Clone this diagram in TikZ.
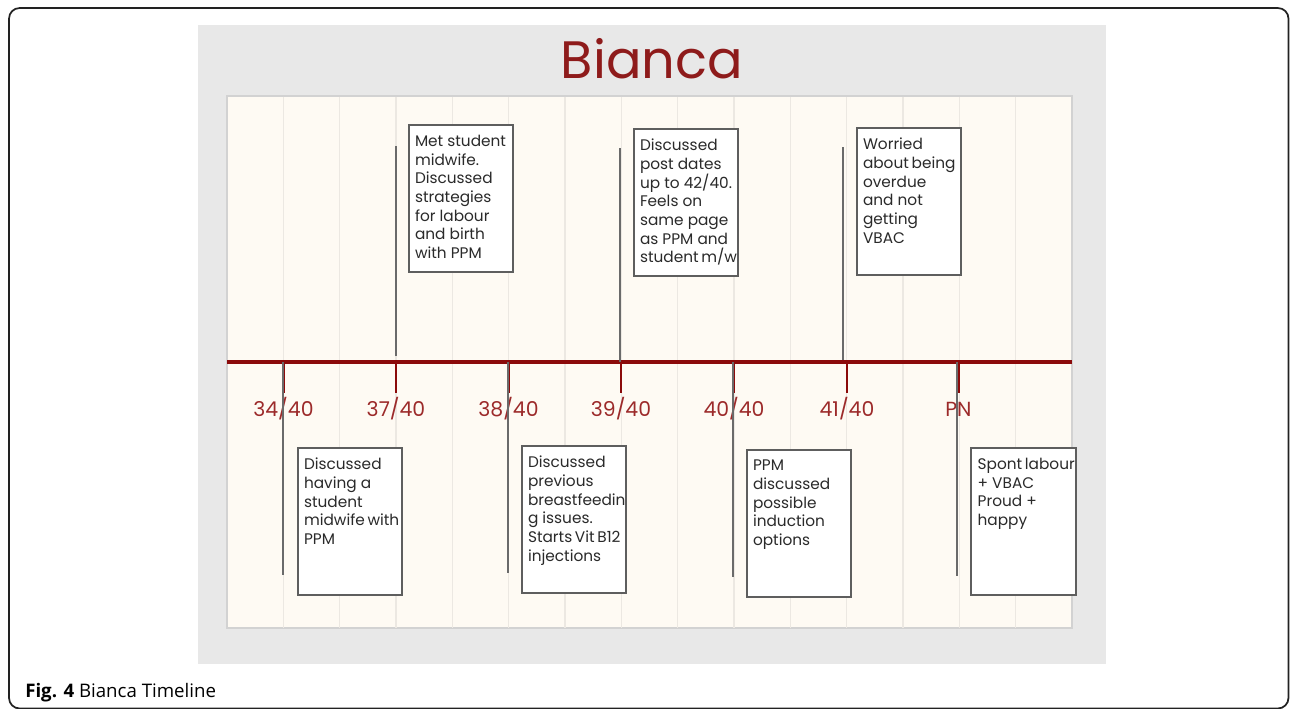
\documentclass[tikz,border=0pt]{standalone}
\usepackage{fontspec}
\setmainfont{Poppins}
\newfontfamily\capfont{Open Sans}
\definecolor{framec}{HTML}{222222}
\definecolor{bgc}{HTML}{E8E8E8}
\definecolor{panelc}{HTML}{FEFAF3}
\definecolor{stripec}{HTML}{ECE8E2}
\definecolor{panelborder}{HTML}{D2D2D2}
\definecolor{titlec}{HTML}{8E1B1B}
\definecolor{linec}{HTML}{8B0A0A}
\definecolor{labelc}{HTML}{9C2A2A}
\definecolor{conc}{HTML}{6A6A6A}
\definecolor{boxc}{HTML}{5E5E5E}
\definecolor{evtextc}{HTML}{2A2A2A}
\newcommand\evtext[1]{\vbox to 101pt{\hsize=69pt\parindent=0pt\raggedright\hyphenpenalty=10000\exhyphenpenalty=10000\color{evtextc}\fontsize{11.5}{14}\selectfont\hbadness=10000\hfuzz=50pt\vskip 3pt #1\par\vfil}}
\tikzset{
  evbox/.style={draw=boxc, line width=1.5pt, fill=white, anchor=north west, inner xsep=4.5pt, inner ysep=4.5pt},
  tick/.style={draw=linec, line width=1.5pt},
  conn/.style={draw=conc, line width=1.5pt},
  weeklabel/.style={text=labelc, font=\fontsize{15.3}{16}\selectfont, inner sep=0pt},
}
\begin{document}
\begin{tikzpicture}[x=0.75pt,y=-0.75pt]
\useasboundingbox (0,0) rectangle (1290,708);
% figure frame
\draw[framec, line width=1.3pt, rounded corners=8pt] (9,8) rectangle (1288.5,708.5);
% backgrounds
\fill[bgc] (198,25) rectangle (1106,664);
\filldraw[fill=panelc, draw=panelborder, line width=0.8pt] (227,96) rectangle (1072,628);
\foreach \i in {1,...,14} {
  \draw[stripec, line width=0.8pt] ({227+\i*56.33},96.5) -- ({227+\i*56.33},627.5);
}
% title
\node[text=titlec, font=\fontsize{39.5}{40}\selectfont, inner sep=0pt] (title) at (652,59) {Bianca};
% timeline
\coordinate (tl0) at (227,362);
\coordinate (tl1) at (1072,362);
\draw[linec, line width=3pt] (tl0) -- (tl1);
% ticks and labels
\foreach \x/\n/\lab in {283.5/a/34\slash 40, 396/b/37\slash 40, 508.5/c/38\slash 40, 621/d/39\slash 40, 734/e/40\slash 40, 847/f/41\slash 40, 958.5/g/PN} {
  \coordinate (t\n) at (\x,362);
  \coordinate (k\n) at (\x,393);
  \draw[tick] (t\n) -- (k\n);
  \node[weeklabel] (l\n) at (\x,409) {\lab};
}
% connectors
\coordinate (cb) at (396,146);
\coordinate (cbb) at (396,356);
\coordinate (cd) at (620,148);
\coordinate (cf) at (843,147);
\coordinate (cfb) at (843,360);
\coordinate (td2) at (620,362);
\draw[conn] (cbb) -- (cb);
\draw[conn] (td2) -- (cd);
\draw[conn] (cfb) -- (cf);
\coordinate (ca) at (283,575);
\coordinate (cc) at (508,573);
\coordinate (ce) at (733,577);
\coordinate (cg) at (957,576);
\coordinate (ta2) at (283,362);
\coordinate (tc2) at (508,362);
\coordinate (te2) at (733,362);
\coordinate (tg2) at (957,362);
\draw[conn] (ta2) -- (ca);
\draw[conn] (tc2) -- (cc);
\draw[conn] (te2) -- (ce);
\draw[conn] (tg2) -- (cg);
% event boxes
\node[evbox] (b1) at (408,124) {\evtext{Met student\\midwife.\\Discussed\\strategies\\for labour\\and birth\\with PPM}};
\node[evbox] (b2) at (633,128) {\evtext{Discussed\\post dates\\up to 42/40.\\Feels on\\same page\\as PPM and\\student~m/w}};
\node[evbox] (b3) at (856,127) {\evtext{Worried\\about~being\\overdue\\and not\\getting\\VBAC}};
\node[evbox] (b4) at (297,447) {\evtext{Discussed\\having a\\student\\midwife~with\\PPM}};
\node[evbox] (b5) at (521,445) {\evtext{Discussed\\previous\\breastfeedin\\g issues.\\Starts~Vit~B12\\injections}};
\node[evbox] (b6) at (746,449) {\evtext{PPM\\discussed\\possible\\induction\\options}};
\node[evbox, inner xsep=5pt] (b7) at (970,447) {\evtext{Spont~labour\\+ VBAC\\Proud +\\happy}};
% caption
\node[anchor=base west, inner sep=0pt, font=\capfont\fontsize{14}{14}\selectfont] (cap) at (25,697) {\textbf{Fig. 4} Bianca Timeline};
\end{tikzpicture}
\end{document}
